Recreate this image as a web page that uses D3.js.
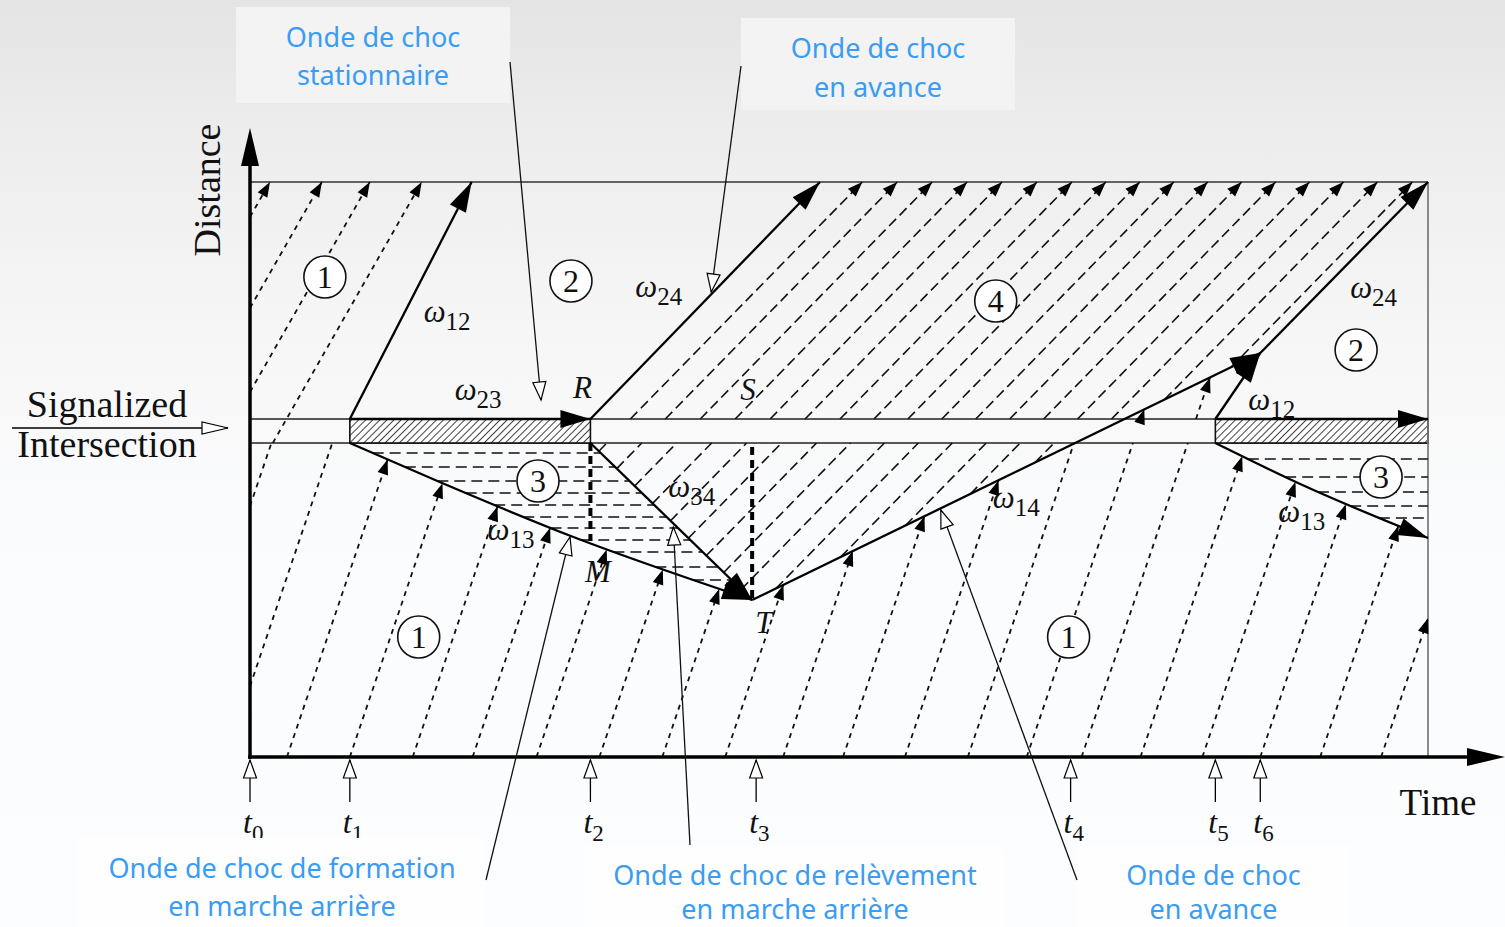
<!DOCTYPE html>
<html>
<head>
<meta charset="utf-8">
<script src="https://cdn.jsdelivr.net/npm/d3@7"></script>
<style>
html, body { margin: 0; padding: 0; background: #fbfcfd; }
svg { display: block; }
</style>
</head>
<body>
<svg id="chart" width="1505" height="927"></svg>
<script>
// ---- chart values (time / distance units) ----
var tickTimes = [0, 10.0, 34.1, 50.7, 82.2, 96.7, 101.2];
var tickNames = ['0', '1', '2', '3', '4', '5', '6'];
var stopBand = [31.4, 33.8];                   // lower / upper edge of the intersection
var redPhases = [[10.0, 34.1], [96.7, 118]];

// shock waves, [time, distance]
var w12a = [[10.0, 33.8], [22.2, 57.5]];
var w23a = [[10.0, 33.8], [34.1, 33.8]];
var w24a = [[34.1, 33.8], [57.1, 57.5]];
var w13a = [[10.0, 31.4], [19.0, 27.5], [32.4, 22.0], [50.3, 15.7]];
var w34  = [[34.1, 31.4], [50.3, 15.7]];
var w14  = [[50.3, 15.7], [101.2, 40.4]];
var w12b = [[96.7, 33.8], [101.2, 40.4]];
var w24b = [[101.2, 40.4], [118, 57.5]];
var w23b = [[96.7, 33.8], [118, 33.8]];
var w13b = [[96.7, 31.4], [105.2, 27.3], [118, 21.9]];

// queue marks M and T : [time, distance from, distance to]
var queueMarks = [[34.1, 31.4, 21.6], [50.3, 31.0, 15.7]];

// vehicle trajectories
var vehUpperLeft = [2.0, 7.2, 12.0, 17.2];      // time at top edge (57.5)
var speedUpperLeft = 1.75;
var vehArrival = [-8.5, -2.4, 3.7, 10.0, 16.3, 22.3, 28.7, 35.0, 41.3, 47.6, 53.4,
                  59.4, 65.6, 71.9, 77.8, 83.3, 89.2, 95.4, 101.2, 107.2, 113.3]; // time at distance 0
var speedArrival = 2.95;
var vehDischarge = [38.1, 41.6, 45.1, 48.6, 52.1, 55.6, 59.1, 62.5, 65.9, 69.3, 72.7,
                    76.1, 79.5, 82.9, 86.3, 89.7, 93.2];              // time at stop line (33.8)
var speedDischarge = 1.02;

// queue (state 3) rows
var queueRowsA = [30.4, 29.0, 27.6, 26.4, 25.2, 24.0, 22.9, 21.7, 20.5, 19.0, 17.7];
var queueRowsB = [29.8, 28.0, 26.5, 25.1, 23.9];

var stateLabels = [
  {n: '1', t: 7.5, d: 48.0}, {n: '2', t: 32.15, d: 47.6}, {n: '4', t: 74.7, d: 45.6},
  {n: '2', t: 110.8, d: 40.7}, {n: '3', t: 28.85, d: 27.6}, {n: '1', t: 16.9, d: 12.0},
  {n: '1', t: 82.0, d: 12.0}, {n: '3', t: 113.3, d: 28.0}
];
var shockLabels = [
  {s: '12', t: 17.4, d: 43.5}, {s: '23', t: 20.5, d: 35.7}, {s: '24', t: 38.6, d: 46.0},
  {s: '34', t: 41.9, d: 26.0}, {s: '13', t: 23.8, d: 21.7}, {s: '14', t: 74.4, d: 24.9},
  {s: '24', t: 110.2, d: 45.9}, {s: '12', t: 100.0, d: 34.7}, {s: '13', t: 103.0, d: 23.5}
];
var pointLabels = [
  {s: 'R', t: 32.35, d: 35.9}, {s: 'S', t: 49.1, d: 35.7},
  {s: 'M', t: 33.55, d: 17.5}, {s: 'T', t: 50.6, d: 12.4}
];

var noteTexts = [
  ['Onde de choc', 'stationnaire'],
  ['Onde de choc', 'en avance'],
  ['Onde de choc de formation', 'en marche arrière'],
  ['Onde de choc de relèvement', 'en marche arrière'],
  ['Onde de choc', 'en avance']
];
var noteTargets = [[29.15, 35.7], [46.2, 46.5], [32.05, 22.0], [42.4, 23.0], [69.2, 24.7]];

// ---- layout ----
var W = 1505, H = 927;
var serif = '"Liberation Serif","Times New Roman",serif';
var sans = '"Noto Sans","Open Sans",sans-serif';
var x = d3.scaleLinear().domain([0, 118]).range([250, 1428]);
var y = d3.scaleLinear().domain([0, 57.5]).range([757, 182]);
var notes = [
  {box: [236, 7, 274, 96],  base: [47, 85],   from: [510, 62]},
  {box: [741, 18, 274, 92], base: [58, 97],   from: [741, 66]},
  {box: [78, 838, 408, 89], base: [878, 916], from: [486, 880]},
  {box: [585, 845, 420, 82], base: [885, 919], from: [690, 845]},
  {box: [1077, 845, 273, 82], base: [885, 919], from: [1077, 880]}
];

function P(d) { return [x(d[0]), y(d[1])]; }
function timeAtDist(seg, d) {
  return seg[0][0] + (d - seg[0][1]) * (seg[1][0] - seg[0][0]) / (seg[1][1] - seg[0][1]);
}

var svg = d3.select('#chart');
var defs = svg.append('defs');

var grad = defs.append('linearGradient').attr('id', 'bg')
  .attr('x1', 0).attr('y1', 0).attr('x2', 0).attr('y2', 1);
[[0, '#e4e4e4'], [0.15, '#ededed'], [0.35, '#f6f6f7'], [0.6, '#fbfcfd'], [1, '#fcfdfe']]
  .forEach(function(s) { grad.append('stop').attr('offset', s[0]).attr('stop-color', s[1]); });
svg.append('rect').attr('width', W).attr('height', H).attr('fill', 'url(#bg)');

var pat = defs.append('pattern').attr('id', 'hatch').attr('patternUnits', 'userSpaceOnUse')
  .attr('width', 5).attr('height', 5).attr('patternTransform', 'rotate(45)');
pat.append('rect').attr('width', 5).attr('height', 5).attr('fill', '#fff');
pat.append('line').attr('x1', 0).attr('y1', 0).attr('x2', 0).attr('y2', 5)
  .attr('stroke', '#111').attr('stroke-width', 1.6);

function addMarker(id, len, half, fill, stroke) {
  defs.append('marker').attr('id', id)
    .attr('viewBox', [-len - 2, -half - 2, len + 4, 2 * half + 4].join(' '))
    .attr('refX', 0).attr('refY', 0)
    .attr('markerWidth', len + 4).attr('markerHeight', 2 * half + 4)
    .attr('markerUnits', 'userSpaceOnUse').attr('orient', 'auto')
    .append('path')
    .attr('d', 'M0,0L' + (-len) + ',' + (-half) + 'L' + (-len) + ',' + half + 'Z')
    .attr('fill', fill).attr('stroke', stroke || 'none').attr('stroke-width', 1.2);
}
addMarker('big', 30, 9, '#000');
addMarker('small', 15, 5.5, '#000');
addMarker('hollow', 18, 6.5, '#fff', '#000');
addMarker('hollowAxis', 26, 6, '#fff', '#000');

var gBand = svg.append('g');
var gFam = svg.append('g');
var gQueue = svg.append('g');
var gWait = svg.append('g');
var gShock = svg.append('g');
var gState = svg.append('g');
var gText = svg.append('g');
var gAxis = svg.append('g');
var gNote = svg.append('g');

// intersection band
stopBand.forEach(function(d) {
  gBand.append('line').attr('x1', x(0)).attr('x2', x(118)).attr('y1', y(d)).attr('y2', y(d))
    .attr('stroke', '#222').attr('stroke-width', 1.6);
});
redPhases.forEach(function(r) {
  gBand.append('rect').attr('x', x(r[0])).attr('y', y(stopBand[1]))
    .attr('width', x(r[1]) - x(r[0])).attr('height', y(stopBand[0]) - y(stopBand[1]))
    .attr('fill', 'url(#hatch)').attr('stroke', '#111').attr('stroke-width', 1.6);
});
gBand.append('line').attr('x1', x(0)).attr('x2', x(118)).attr('y1', y(57.5)).attr('y2', y(57.5))
  .attr('stroke', '#333').attr('stroke-width', 1.7);
gBand.append('line').attr('x1', x(118)).attr('x2', x(118)).attr('y1', y(57.5)).attr('y2', y(0))
  .attr('stroke', '#777').attr('stroke-width', 1.7);

// shocks
var straight = d3.line().x(function(d) { return x(d[0]); }).y(function(d) { return y(d[1]); });
var smooth = d3.line().x(function(d) { return x(d[0]); }).y(function(d) { return y(d[1]); })
  .curve(d3.curveMonotoneX);
var shocks = [w12a, w23a, w24a, w13a, w34, w14, w12b, w24b, w23b, w13b];
var nodes = {};
shocks.forEach(function(s) {
  var curved = (s === w13a || s === w13b);
  var p = gShock.append('path').attr('d', (curved ? smooth : straight)(s))
    .attr('fill', 'none').attr('stroke', '#000').attr('stroke-width', 2.3)
    .attr('marker-end', 'url(#big)');
  if (s === w13a) nodes.a = p.node();
  if (s === w13b) nodes.b = p.node();
});

function samplePath(node, n) {
  var L = node.getTotalLength();
  return d3.range(n + 1).map(function(i) {
    var q = node.getPointAtLength(L * i / n);
    return [q.x, q.y];
  });
}
var curveA = samplePath(nodes.a, 40);
var curveB = samplePath(nodes.b, 30);

var lo = stopBand[0], hi = stopBand[1];
var cLo = [timeAtDist(w14, lo), lo], cHi = [timeAtDist(w14, hi), hi];

var polyUpperLeft = [[0, 57.5], [w12a[1][0], 57.5], w12a[0], [w12a[0][0], lo], [0, lo]].map(P);
var polyLower = [[0, 0], [0, lo]].map(P)
  .concat(curveA)
  .concat([cLo, [w13b[0][0], lo]].map(P))
  .concat(curveB)
  .concat([[118, 0]].map(P));
var polyRight = [cHi, w14[1], w12b[0]].map(P);
var polyUp4 = [w24a[0], w24a[1], [118, 57.5], w24b[0], cHi].map(P);
var polyLow4 = [w34[0], cLo, w34[1]].map(P);
var polyQueueA = [w13a[0], w34[0]].map(P).concat(curveA.slice().reverse());
var polyQueueB = [w13b[0], [118, lo]].map(P).concat(curveB.slice().reverse());

function clipLine(poly, p, v) {
  var ss = [];
  for (var i = 0; i < poly.length; i++) {
    var a = poly[i], b = poly[(i + 1) % poly.length];
    var ex = b[0] - a[0], ey = b[1] - a[1];
    var den = v[0] * ey - v[1] * ex;
    if (Math.abs(den) < 1e-9) continue;
    var wx = a[0] - p[0], wy = a[1] - p[1];
    var s = (wx * ey - wy * ex) / den;
    var u = (wx * v[1] - wy * v[0]) / den;
    if (u >= -1e-9 && u <= 1 + 1e-9) ss.push(s);
  }
  ss.sort(d3.ascending);
  var segs = [];
  for (var j = 0; j < ss.length - 1; j++) {
    if (ss[j + 1] - ss[j] < 1e-6) continue;
    var m = (ss[j] + ss[j + 1]) / 2;
    if (d3.polygonContains(poly, [p[0] + v[0] * m, p[1] + v[1] * m])) {
      var last = segs[segs.length - 1];
      if (last && Math.abs(last[1] - ss[j]) < 1e-6) last[1] = ss[j + 1];
      else segs.push([ss[j], ss[j + 1]]);
    }
  }
  return segs;
}

function drawFamily(times, atDist, speed, polys, dash, width) {
  times.forEach(function(t0) {
    var p = [x(t0), y(atDist)];
    var v = [x(t0 + 1) - x(t0), y(atDist + speed) - y(atDist)];
    polys.forEach(function(poly) {
      clipLine(poly, p, v).forEach(function(sg) {
        var a = [p[0] + v[0] * sg[0], p[1] + v[1] * sg[0]];
        var b = [p[0] + v[0] * sg[1], p[1] + v[1] * sg[1]];
        var onBand = Math.abs(b[1] - y(lo)) < 1.5 || Math.abs(b[1] - y(hi)) < 1.5;
        gFam.append('path').attr('d', 'M' + a + 'L' + b)
          .attr('fill', 'none').attr('stroke', '#111').attr('stroke-width', width)
          .attr('stroke-dasharray', dash)
          .attr('marker-end', onBand ? null : 'url(#small)');
      });
    });
  });
}
drawFamily(vehUpperLeft, 57.5, speedUpperLeft, [polyUpperLeft], '5,5', 1.8);
drawFamily(vehArrival, 0, speedArrival, [polyLower, polyRight], '5,5', 1.8);
drawFamily(vehDischarge, hi, speedDischarge, [polyUp4, polyLow4], '10,5', 1.6);

function drawRows(rows, poly) {
  rows.forEach(function(d) {
    var p = [x(0), y(d)], v = [1, 0];
    clipLine(poly, p, v).forEach(function(sg) {
      gQueue.append('line').attr('x1', p[0] + sg[0]).attr('x2', p[0] + sg[1])
        .attr('y1', p[1]).attr('y2', p[1])
        .attr('stroke', '#111').attr('stroke-width', 1.6).attr('stroke-dasharray', '11,6');
    });
  });
}
drawRows(queueRowsA, polyQueueA);
drawRows(queueRowsB, polyQueueB);

queueMarks.forEach(function(q) {
  gWait.append('line').attr('x1', x(q[0])).attr('x2', x(q[0])).attr('y1', y(q[1])).attr('y2', y(q[2]))
    .attr('stroke', '#000').attr('stroke-width', 4).attr('stroke-dasharray', '8,5');
});

// state circles
stateLabels.forEach(function(s) {
  gState.append('circle').attr('cx', x(s.t)).attr('cy', y(s.d)).attr('r', 21)
    .attr('fill', '#fff').attr('stroke', '#111').attr('stroke-width', 1.6);
  gState.append('text').attr('x', x(s.t)).attr('y', y(s.d) + 11).attr('text-anchor', 'middle')
    .attr('font-family', serif).attr('font-size', 32).attr('fill', '#111').text(s.n);
});

// shock and point labels
shockLabels.forEach(function(s) {
  var t = gText.append('text').attr('x', x(s.t)).attr('y', y(s.d))
    .attr('font-family', serif).attr('fill', '#111');
  t.append('tspan').attr('font-style', 'italic').attr('font-size', 31).text('ω');
  t.append('tspan').attr('font-size', 25).attr('dy', 8).text(s.s);
});
pointLabels.forEach(function(s) {
  gText.append('text').attr('x', x(s.t)).attr('y', y(s.d))
    .attr('font-family', serif).attr('font-style', 'italic').attr('font-size', 31)
    .attr('fill', '#111').text(s.s);
});

// axes
gAxis.append('line').attr('x1', x(0)).attr('x2', x(0)).attr('y1', y(0) + 2).attr('y2', 160)
  .attr('stroke', '#000').attr('stroke-width', 3.5);
gAxis.append('path').attr('d', 'M' + x(0) + ',128L' + (x(0) - 9) + ',166L' + (x(0) + 9) + ',166Z');
gAxis.append('line').attr('x1', x(0) - 2).attr('x2', 1472).attr('y1', y(0)).attr('y2', y(0))
  .attr('stroke', '#000').attr('stroke-width', 3.5);
gAxis.append('path').attr('d', 'M1505,' + y(0) + 'L1467,' + (y(0) - 9) + 'L1467,' + (y(0) + 9) + 'Z');

tickTimes.forEach(function(t, i) {
  gAxis.append('line').attr('x1', x(t)).attr('x2', x(t)).attr('y1', 802).attr('y2', 760)
    .attr('stroke', '#000').attr('stroke-width', 1.3).attr('marker-end', 'url(#hollow)');
  var lab = gAxis.append('text').attr('x', x(t) - 7).attr('y', 833)
    .attr('font-family', serif).attr('fill', '#111');
  lab.append('tspan').attr('font-style', 'italic').attr('font-size', 32).text('t');
  lab.append('tspan').attr('font-size', 23).attr('dy', 8).text(tickNames[i]);
});

gAxis.append('text').attr('transform', 'translate(220,190) rotate(-90)').attr('text-anchor', 'middle')
  .attr('font-family', serif).attr('font-size', 38).attr('fill', '#111').text('Distance');
gAxis.append('text').attr('x', 1438).attr('y', 815).attr('text-anchor', 'middle')
  .attr('font-family', serif).attr('font-size', 37).attr('fill', '#111').text('Time');
gAxis.append('text').attr('x', 107).attr('y', 417).attr('text-anchor', 'middle')
  .attr('font-family', serif).attr('font-size', 38).attr('fill', '#111').text('Signalized');
gAxis.append('text').attr('x', 107).attr('y', 457).attr('text-anchor', 'middle')
  .attr('font-family', serif).attr('font-size', 38).attr('fill', '#111').text('Intersection');
gAxis.append('line').attr('x1', 12).attr('x2', 228).attr('y1', 428).attr('y2', 428)
  .attr('stroke', '#000').attr('stroke-width', 1.5).attr('marker-end', 'url(#hollowAxis)');

// callouts
notes.forEach(function(n, i) {
  var fill = n.box[1] < 400 ? '#f3f3f3' : '#fefefe';
  gNote.append('rect').attr('x', n.box[0]).attr('y', n.box[1]).attr('width', n.box[2]).attr('height', n.box[3])
    .attr('fill', fill);
  gNote.append('line').attr('x1', n.from[0]).attr('y1', n.from[1])
    .attr('x2', x(noteTargets[i][0])).attr('y2', y(noteTargets[i][1]))
    .attr('stroke', '#111').attr('stroke-width', 1.3).attr('marker-end', 'url(#hollow)');
  noteTexts[i].forEach(function(line, k) {
    gNote.append('text').attr('x', n.box[0] + n.box[2] / 2).attr('y', n.base[k])
      .attr('text-anchor', 'middle').attr('font-family', sans).attr('font-size', 27)
      .attr('fill', '#3a9cf2').text(line);
  });
});
</script>
</body>
</html>
